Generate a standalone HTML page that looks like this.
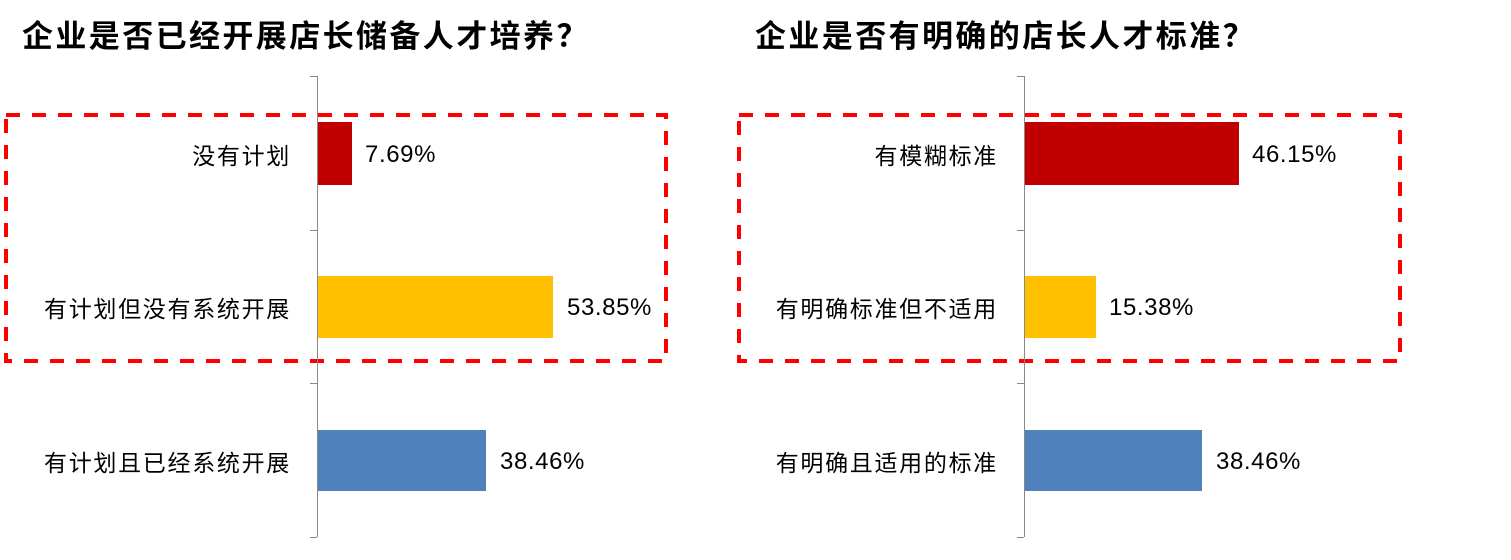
<!DOCTYPE html><html><head><meta charset="utf-8"><style>
body{margin:0;width:1511px;height:560px;background:#fff;overflow:hidden;position:relative;font-family:"Liberation Sans","Noto Sans CJK SC",sans-serif}
div{position:absolute}
.t{font-family:"Noto Sans CJK SC",sans-serif;font-size:31px;font-weight:bold;top:13px;white-space:nowrap;letter-spacing:2.4px;line-height:42px}
.l{font-family:"Noto Sans CJK SC",sans-serif;font-size:23px;letter-spacing:1.7px;text-align:right;width:300px;white-space:nowrap;line-height:28px}
.v{font-size:24px;letter-spacing:0.6px;line-height:28px;white-space:nowrap}
.ax{width:1px;background:#888;top:76px;height:461px}
.tk{height:1px;width:7px;background:#888}
</style></head><body>
<div class="t" style="left:22px">企业是否已经开展店长储备人才培养？</div>
<div class="t" style="left:755px">企业是否有明确的店长人才标准？</div>
<svg style="position:absolute;left:0;top:0" width="1511" height="560">
<rect x="6" y="115" width="660" height="246" fill="none" stroke="#f00" stroke-width="4" stroke-dasharray="14 12"/>
<rect x="739" y="115" width="661" height="246" fill="none" stroke="#f00" stroke-width="4" stroke-dasharray="14 12"/>
</svg>
<div class="ax" style="left:317px"></div>
<div class="tk" style="left:310px;top:76px"></div><div class="tk" style="left:310px;top:230px"></div><div class="tk" style="left:310px;top:383px"></div><div class="tk" style="left:310px;top:537px"></div>
<div class="ax" style="left:1024px"></div>
<div class="tk" style="left:1017px;top:76px"></div><div class="tk" style="left:1017px;top:230px"></div><div class="tk" style="left:1017px;top:383px"></div><div class="tk" style="left:1017px;top:537px"></div>
<div style="left:318px;top:122px;width:34px;height:63px;background:#c00000"></div>
<div style="left:318px;top:276px;width:235px;height:62px;background:#ffc000"></div>
<div style="left:318px;top:430px;width:168px;height:61px;background:#4f81bd"></div>
<div style="left:1025px;top:122px;width:214px;height:63px;background:#c00000"></div>
<div style="left:1025px;top:276px;width:71px;height:62px;background:#ffc000"></div>
<div style="left:1025px;top:430px;width:177px;height:61px;background:#4f81bd"></div>
<div class="l" style="left:-9px;top:140px">没有计划</div>
<div class="l" style="left:-9px;top:293px">有计划但没有系统开展</div>
<div class="l" style="left:-9px;top:447px">有计划且已经系统开展</div>
<div class="l" style="left:698px;top:140px">有模糊标准</div>
<div class="l" style="left:698px;top:293px">有明确标准但不适用</div>
<div class="l" style="left:698px;top:447px">有明确且适用的标准</div>
<div class="v" style="left:365px;top:141px">7.69%</div>
<div class="v" style="left:567px;top:294px">53.85%</div>
<div class="v" style="left:500px;top:448px">38.46%</div>
<div class="v" style="left:1252px;top:141px">46.15%</div>
<div class="v" style="left:1109px;top:294px">15.38%</div>
<div class="v" style="left:1216px;top:448px">38.46%</div>
</body></html>
